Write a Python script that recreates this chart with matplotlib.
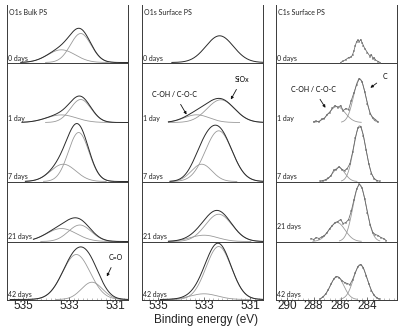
import numpy as np
import matplotlib
matplotlib.use("Agg")
import matplotlib.pyplot as plt

plt.rcParams['font.family'] = ['Lato', 'DejaVu Sans']

# ---------------- data ----------------
days = ["0 days", "1 day", "7 days", "21 days", "42 days"]
panel_titles = ["O1s Bulk PS", "O1s Surface PS", "C1s Surface PS"]
o1s_ticks = [535, 533, 531]
c1s_ticks = [290, 288, 286, 284]

# O1s bulk: fitted components (centre eV, height, sigma eV) per day
bulk_main_c = [532.49, 532.49, 532.58, 532.53, 532.68]
bulk_main_h = [29.0, 23.0, 49.0, 16.5, 45.0]
bulk_main_s = [0.45, 0.45, 0.45, 0.50, 0.60]
bulk_hi_c = [533.33, 533.33, 533.25, 533.33, 533.30]
bulk_hi_h = [12.7, 7.6, 17.3, 13.0, 0.0]
bulk_hi_s = [0.60, 0.65, 0.55, 0.65, 0.55]
bulk_co_c = [532.0, 532.0, 532.0, 532.0, 532.0]
bulk_co_h = [0.0, 0.0, 0.0, 0.0, 17.3]
bulk_co_s = [0.46, 0.46, 0.46, 0.46, 0.46]
bulk_range = [(535.1, 530.43), (535.05, 530.43), (534.9, 530.43), (534.55, 530.43), (535.55, 530.43)]

# O1s surface: SiOx and C-OH / C-O-C components
surf_si_c = [532.32, 532.27, 532.36, 532.36, 532.36]
surf_si_h = [26.7, 22.7, 50.7, 27.3, 53.0]
surf_si_s = [0.60, 0.60, 0.58, 0.58, 0.55]
surf_oh_c = [533.2, 533.32, 533.10, 533.0, 533.0]
surf_oh_h = [0.0, 7.7, 17.3, 6.3, 5.7]
surf_oh_s = [0.50, 0.55, 0.45, 0.60, 0.60]
surf_range = [(534.4, 530.43), (534.55, 530.43), (534.48, 530.43), (534.55, 530.43), (534.9, 530.43)]

# C1s surface: components
c1s_c_c = [284.58, 284.58, 284.58, 284.58, 284.53]
c1s_c_h = [0.0, 43.7, 55.7, 57.0, 35.0]
c1s_c_s = [0.45, 0.45, 0.45, 0.50, 0.50]
c1s_oh_c = [286.26, 286.26, 286.13, 286.26, 286.26]
c1s_oh_h = [0.0, 16.0, 14.0, 19.0, 23.0]
c1s_oh_s = [0.60, 0.60, 0.45, 0.60, 0.50]

c1s_E_0 = [286.0, 285.8, 285.6, 285.4, 285.2, 285.1, 285.0, 284.9, 284.8, 284.7, 284.6, 284.5,
           284.4, 284.3, 284.2, 284.0, 283.8, 283.7, 283.6, 283.5, 283.4, 283.2, 283.05]
c1s_I_0 = [0, 1.5, 3, 5, 5.5, 8, 12, 17, 21, 22.5, 21, 23, 20, 17, 14, 10, 6, 8, 4, 5, 2.5, 1, 0]
c1s_E_1 = [288.0, 287.8, 287.6, 287.4, 287.2, 287.0, 286.8, 286.6, 286.4, 286.2, 286.0, 285.8, 285.6,
           285.4, 285.2, 285.0, 284.8, 284.6, 284.4, 284.2, 284.0, 283.8, 283.6, 283.4, 283.2]
c1s_I_1 = [1, 1.5, 0.5, 3.5, 4, 8, 10, 14.5, 17, 15, 17, 12, 14, 13, 22, 30, 38, 44, 41, 31, 19, 9, 5, 3, 0.5]
c1s_E_7 = [287.5, 287.3, 287.1, 286.9, 286.7, 286.5, 286.3, 286.1, 285.9, 285.7, 285.5, 285.3,
           285.1, 284.9, 284.7, 284.5, 284.3, 284.1, 283.9, 283.7, 283.5, 283.3, 283.1]
c1s_I_7 = [0.5, 1, 2, 3.5, 6, 11.5, 12, 15, 12, 11, 13, 18, 29.5, 43.6, 53.7, 55, 46, 31.5, 18, 8, 3, 1, 0.3]
c1s_E_21 = [288.2, 288.0, 287.8, 287.6, 287.4, 287.2, 287.0, 286.8, 286.6, 286.4, 286.2, 286.0, 285.8,
            285.6, 285.4, 285.2, 285.0, 284.8, 284.6, 284.4, 284.2, 284.0, 283.8, 283.6, 283.4, 283.2,
            283.0, 282.8, 282.6]
c1s_I_21 = [3, 2, 4, 3, 4.5, 6, 9, 13, 16, 19, 20, 22, 18, 19, 22, 30.4, 42, 52.7, 57.4, 53.4, 42.7,
            29, 17, 9, 7, 6, 4, 3, 1]
c1s_E_42 = [287.5, 287.3, 287.1, 286.9, 286.7, 286.5, 286.3, 286.1, 285.9, 285.7, 285.5, 285.3,
            285.1, 284.9, 284.7, 284.5, 284.3, 284.1, 283.9, 283.7, 283.5, 283.3, 283.1]
c1s_I_42 = [0.5, 2.7, 5.6, 10, 15.6, 20.5, 23, 22, 19, 17, 16, 15, 20, 27, 33, 35, 31.6, 24, 16, 9,
            4.2, 1.7, 0.5]

# ---------------- layout / style ----------------
W, H = 415, 326
row_base = [237, 177, 118, 58, 0]
separators = [237, 118, 58]
panel_left = [7, 142, 276]
panel_w = 121
ax_bottom, ax_top = 299.5, 5
xlims = [(535.70, 530.43), (535.70, 530.43), (290.75, 281.8)]
ENV = '#2a2a2a'
COMP = '#9a9a9a'
DATA = '#666666'
LINE = '#3a3a3a'
AXFONT = ['Liberation Sans', 'DejaVu Sans']


def gauss(E, c, h, s):
    return h * np.exp(-0.5 * ((E - c) / s) ** 2)


def comp_curve(ax, rng, c, h, s, base, color=COMP, lw=0.6, span=3.4):
    if h <= 0:
        return
    hi = min(rng[0], c + span * s)
    lo = max(rng[1], c - span * s)
    E = np.linspace(hi, lo, 200)
    ax.plot(E, base + gauss(E, c, h, s), color=color, lw=lw, zorder=2)


fig = plt.figure(figsize=(W / 100, H / 100), dpi=100)
axes = []
for p in range(3):
    ax = fig.add_axes([panel_left[p] / W, (H - ax_bottom) / H, panel_w / W, (ax_bottom - ax_top) / H])
    ax.set_xlim(*xlims[p])
    ax.set_ylim(0, ax_bottom - ax_top)
    ax.spines['top'].set_visible(False)
    for s in ['left', 'right', 'bottom']:
        ax.spines[s].set_color(LINE)
        ax.spines[s].set_linewidth(0.7)
    ax.set_yticks([])
    for y in separators:
        ax.axhline(y, color=LINE, lw=0.7, zorder=1)
    ticks = o1s_ticks if p < 2 else c1s_ticks
    ax.set_xticks(ticks)
    ax.set_xticklabels([str(t) for t in ticks], fontfamily=AXFONT)
    if p < 2:
        ax.set_xticks(np.arange(530.6, 535.7, 0.2), minor=True)
    else:
        ax.set_xticks(np.arange(282.0, 290.8, 0.4), minor=True)
    ax.tick_params(axis='x', which='major', direction='in', length=2, width=0.5, pad=0.1,
                   labelsize=8.5, color=LINE, labelcolor='#222')
    ax.tick_params(axis='x', which='minor', direction='in', length=1.2, width=0.4, color='#888')
    ax.text(0.02, 287, panel_titles[p], transform=ax.get_yaxis_transform(), fontsize=5,
            va='center', ha='left', color='#222')
    for i, d in enumerate(days):
        dy = 12 if (p == 2 and i == 3) else 1
        ax.text(0.012, row_base[i] + dy, d, transform=ax.get_yaxis_transform(), fontsize=5,
                va='bottom', ha='left', color='#222')
    axes.append(ax)

arrow = dict(arrowstyle='-|>', color='#111', lw=0.6, mutation_scale=4, shrinkA=3, shrinkB=0)

# panel 1: O1s bulk
ax = axes[0]
for i in range(5):
    b = row_base[i]
    rng = bulk_range[i]
    E = np.linspace(rng[0], rng[1], 300)
    env = (gauss(E, bulk_main_c[i], bulk_main_h[i], bulk_main_s[i]) +
           gauss(E, bulk_hi_c[i], bulk_hi_h[i], bulk_hi_s[i]) +
           gauss(E, bulk_co_c[i], bulk_co_h[i], bulk_co_s[i]))
    ax.plot(E, b + env, color=ENV, lw=0.7, zorder=3)
    comp_curve(ax, rng, bulk_main_c[i], bulk_main_h[i], bulk_main_s[i], b)
    comp_curve(ax, rng, bulk_hi_c[i], bulk_hi_h[i], bulk_hi_s[i], b)
    comp_curve(ax, rng, bulk_co_c[i], bulk_co_h[i], bulk_co_s[i], b)
ax.annotate("C=O", xy=(531.35, 23), xytext=(530.96, 42), fontsize=5, ha='center', va='center',
            arrowprops=arrow)

# panel 2: O1s surface
ax = axes[1]
for i in range(5):
    b = row_base[i]
    rng = surf_range[i]
    E = np.linspace(rng[0], rng[1], 300)
    env = (gauss(E, surf_si_c[i], surf_si_h[i], surf_si_s[i]) +
           gauss(E, surf_oh_c[i], surf_oh_h[i], surf_oh_s[i]))
    ax.plot(E, b + env, color=ENV, lw=0.7, zorder=3)
    if surf_oh_h[i] > 0:
        comp_curve(ax, rng, surf_si_c[i], surf_si_h[i], surf_si_s[i], b, span=6)
        comp_curve(ax, rng, surf_oh_c[i], surf_oh_h[i], surf_oh_s[i], b)
ax.annotate("C-OH / C-O-C", xy=(533.76, 185), xytext=(534.27, 205), fontsize=5, ha='center',
            va='center', arrowprops=arrow)
ax.annotate("SiOx", xy=(531.83, 200), xytext=(531.35, 220), fontsize=5, ha='center',
            va='center', arrowprops=arrow)

# panel 3: C1s surface
ax = axes[2]
c1s_E = [c1s_E_0, c1s_E_1, c1s_E_7, c1s_E_21, c1s_E_42]
c1s_I = [c1s_I_0, c1s_I_1, c1s_I_7, c1s_I_21, c1s_I_42]
for i in range(5):
    b = row_base[i]
    rng = (max(c1s_E[i]), min(c1s_E[i]))
    comp_curve(ax, rng, c1s_c_c[i], c1s_c_h[i], c1s_c_s[i], b, span=3.0)
    comp_curve(ax, rng, c1s_oh_c[i], c1s_oh_h[i], c1s_oh_s[i], b, span=3.0)
    ax.plot(c1s_E[i], b + np.array(c1s_I[i]), color=DATA, lw=0.55, marker='+', ms=1.6,
            mew=0.35, zorder=3)
ax.annotate("C-OH / C-O-C", xy=(287.12, 191.7), xytext=(287.99, 210), fontsize=5, ha='center',
            va='center', arrowprops=arrow)
ax.annotate("C", xy=(283.78, 211.7), xytext=(282.68, 222.7), fontsize=5, ha='center',
            va='center', arrowprops=arrow)

fig.text(206 / W, 0.0, "Binding energy (eV)", ha='center', va='bottom', fontsize=8.5,
         color='#222', family=AXFONT)

fig.savefig("out.png", dpi=100)
